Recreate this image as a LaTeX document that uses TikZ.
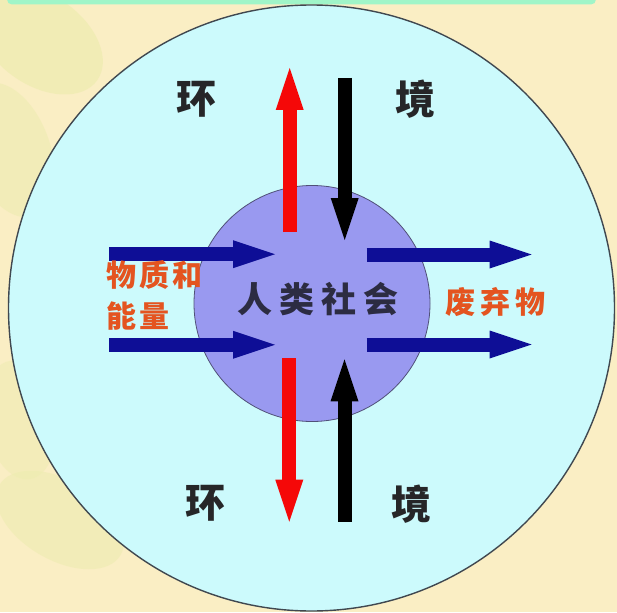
\documentclass[tikz,border=0pt]{standalone}
\usepackage{fontspec}
\newfontfamily\cjk{Noto Sans CJK SC}
\usetikzlibrary{arrows.meta}
\definecolor{bgyellow}{RGB}{250,238,196}
\definecolor{leafgreen}{RGB}{238,236,176}
\definecolor{stripgreen}{RGB}{160,245,200}
\definecolor{outerfill}{RGB}{204,250,252}
\definecolor{outerline}{RGB}{64,72,80}
\definecolor{innerfill}{RGB}{153,153,240}
\definecolor{innerline}{RGB}{80,80,120}
\definecolor{flowblue}{RGB}{14,14,150}
\definecolor{flowred}{RGB}{245,8,8}
\definecolor{labelorange}{RGB}{228,84,32}
\definecolor{envtextcol}{RGB}{38,38,40}
\definecolor{centertext}{RGB}{44,44,66}
\tikzset{
  fatarrow/.style={line width=14pt, -{Triangle[length=42pt,width=28pt,line width=0pt]}},
  bluearrow/.style={fatarrow, draw=flowblue, color=flowblue},
  redarrow/.style={fatarrow, draw=flowred, color=flowred},
  blackarrow/.style={fatarrow, draw=black, color=black},
  envtext/.style={text=envtextcol, inner sep=0pt, font=\cjk\bfseries\fontsize{40}{40}\selectfont},
  flowlabel/.style={text=labelorange, inner sep=0pt, anchor=west, font=\cjk\bfseries\fontsize{30}{30}\selectfont},
  centerlabel/.style={text=centertext, inner sep=0pt, font=\cjk\bfseries\fontsize{35}{35}\selectfont}
}
\begin{document}
\begin{tikzpicture}[x=1pt,y=-1pt]
\useasboundingbox (0,0) rectangle (617,612);
% background
\fill[bgyellow] (0,0) rectangle (617,612);
\fill[leafgreen, opacity=0.7] (40,40) ellipse [x radius=70, y radius=45, rotate=-35];
\fill[leafgreen, opacity=0.6] (10,150) ellipse [x radius=40, y radius=70, rotate=20];
\fill[leafgreen, opacity=0.6] (60,520) ellipse [x radius=70, y radius=40, rotate=-30];
\fill[leafgreen, opacity=0.5] (20,420) ellipse [x radius=35, y radius=60, rotate=10];
% top strip
\fill[stripgreen, rounded corners=5pt] (7,-20) rectangle (596,4.5);
% outer environment circle
\node[circle, minimum size=606pt, inner sep=0pt, fill=outerfill, draw=outerline, line width=1.4pt] (env) at (311.5,308) {};
% inner society circle
\node[circle, minimum size=236pt, inner sep=0pt, fill=innerfill, draw=innerline, line width=0.8pt] (soc) at (312,303.5) {};
% flow endpoints
\coordinate (ruS) at (289.7,232);  \coordinate (ruE) at (289.7,68);
\coordinate (bdS) at (344.7,78);   \coordinate (bdE) at (344.7,240);
\coordinate (rdS) at (289.3,358);  \coordinate (rdE) at (289.3,521.7);
\coordinate (buS) at (344.5,521.7);\coordinate (buE) at (344.5,359.3);
\coordinate (l1S) at (109.3,254.2);\coordinate (l1E) at (275,254.2);
\coordinate (l2S) at (109.3,344.8);\coordinate (l2E) at (275,344.8);
\coordinate (r1S) at (366.7,254.5);\coordinate (r1E) at (531.7,254.5);
\coordinate (r2S) at (366.7,344.5);\coordinate (r2E) at (531.7,344.5);
% arrows
\draw[redarrow] (ruS) -- (ruE);
\draw[blackarrow] (bdS) -- (bdE);
\draw[redarrow] (rdS) -- (rdE);
\draw[blackarrow] (buS) -- (buE);
\draw[bluearrow] (l1S) -- (l1E);
\draw[bluearrow] (l2S) -- (l2E);
\draw[bluearrow] (r1S) -- (r1E);
\draw[bluearrow] (r2S) -- (r2E);
% labels
\node[envtext] (huan1) at (196,99) {环};
\node[envtext] (jing1) at (415,99) {境};
\node[envtext] (huan2) at (205,503) {环};
\node[envtext] (jing2) at (411,504) {境};
\node[centerlabel] (society) at (318,299) {人\hspace{7pt}类\hspace{7pt}社\hspace{7pt}会};
\node[flowlabel] (matter1) at (106,275) {物\hspace{3pt}质\hspace{3pt}和};
\node[flowlabel] (matter2) at (106,316) {能\hspace{3pt}量};
\node[flowlabel] (waste) at (445,302) {废\hspace{5pt}弃\hspace{5pt}物};
\end{tikzpicture}
\end{document}
